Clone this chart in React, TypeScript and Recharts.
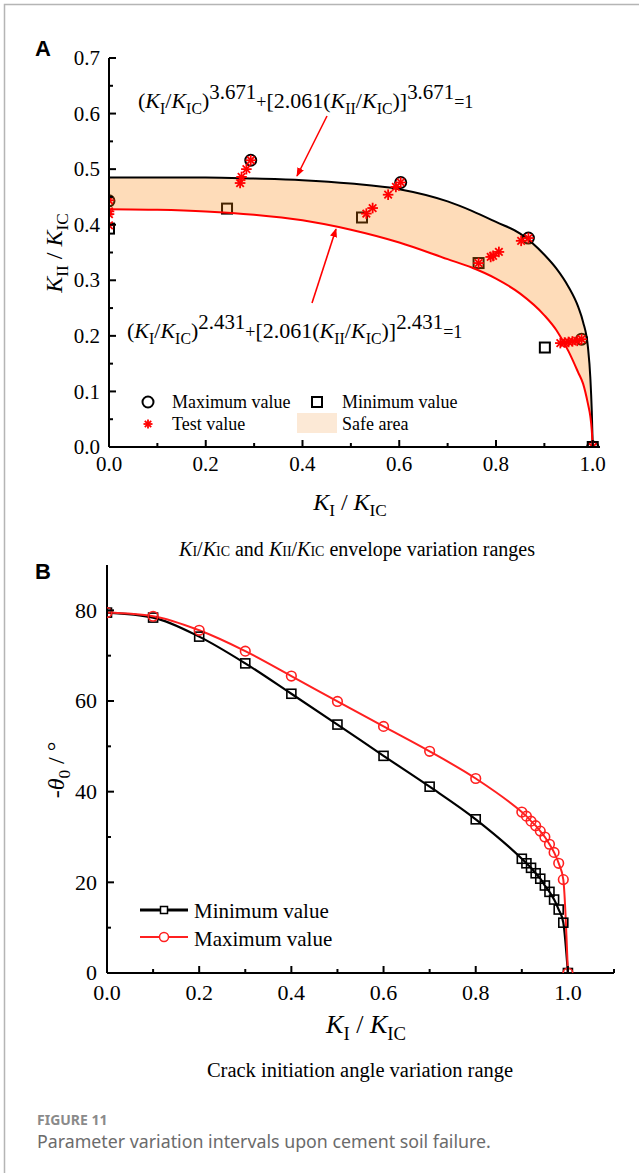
import React from "react";
import { ComposedChart, Line, Area, Scatter, XAxis, YAxis } from "recharts";

const serif = "'Liberation Serif', 'Times New Roman', serif";
const sans = "'Liberation Sans', Arial, sans-serif";

// ---- panel A: failure envelopes ----
const envX = [0, 0.1, 0.2, 0.3, 0.4, 0.5, 0.6, 0.7, 0.75, 0.8, 0.85, 0.9, 0.925, 0.95, 0.97, 0.98, 0.99, 0.995, 0.998, 1.0];
const outerY = [0.485, 0.485, 0.485, 0.483, 0.48, 0.474, 0.464, 0.442, 0.425, 0.405, 0.384, 0.346, 0.321, 0.288, 0.252, 0.225, 0.18, 0.125, 0.065, 0];
const innerY = [0.428, 0.427, 0.424, 0.418, 0.408, 0.391, 0.368, 0.338, 0.323, 0.303, 0.276, 0.237, 0.21, 0.172, 0.134, 0.114, 0.078, 0.055, 0.03, 0];

const maxX = [0, 0.293, 0.603, 0.867, 0.977, 1.0];
const maxY = [0.443, 0.516, 0.476, 0.376, 0.194, 0];
const minX = [0, 0.244, 0.523, 0.764, 0.901, 1.0];
const minY = [0.393, 0.429, 0.413, 0.331, 0.179, 0];
const testX = [0, 0, 0, 0, 0.271, 0.274, 0.284, 0.293, 0.532, 0.545, 0.577, 0.593, 0.603, 0.764, 0.789, 0.794, 0.806, 0.852, 0.867, 0.933, 0.942, 0.95, 0.958, 0.968, 0.977, 1.0];
const testY = [0.444, 0.424, 0.419, 0.399, 0.475, 0.486, 0.5, 0.516, 0.42, 0.43, 0.454, 0.468, 0.476, 0.331, 0.342, 0.344, 0.351, 0.371, 0.376, 0.187, 0.188, 0.189, 0.19, 0.191, 0.194, 0];

const aXTicks = [0, 0.1, 0.2, 0.3, 0.4, 0.5, 0.6, 0.7, 0.8, 0.9, 1.0];
const aXMajor = [0, 0.2, 0.4, 0.6, 0.8, 1.0];
const aYTicks = [0, 0.05, 0.1, 0.15, 0.2, 0.25, 0.3, 0.35, 0.4, 0.45, 0.5, 0.55, 0.6, 0.65, 0.7];
const aYMajor = [0, 0.1, 0.2, 0.3, 0.4, 0.5, 0.6, 0.7];

// ---- panel B: crack initiation angle ----
const bX = [0, 0.1, 0.2, 0.3, 0.4, 0.5, 0.6, 0.7, 0.8, 0.9, 0.91, 0.92, 0.93, 0.94, 0.95, 0.96, 0.97, 0.98, 0.99, 1.0];
const bMin = [79.5, 78.4, 74.2, 68.3, 61.6, 54.8, 47.9, 41.1, 33.9, 25.2, 24.2, 23.2, 22.0, 20.8, 19.3, 17.9, 16.2, 14.0, 11.1, 0];
const bMax = [79.5, 78.7, 75.6, 71.0, 65.5, 59.9, 54.4, 48.9, 42.9, 35.5, 34.6, 33.5, 32.5, 31.3, 30.0, 28.4, 26.6, 24.2, 20.6, 0];

const bXTicks = [0, 0.1, 0.2, 0.3, 0.4, 0.5, 0.6, 0.7, 0.8, 0.9, 1.0, 1.1];
const bXMajor = [0, 0.2, 0.4, 0.6, 0.8, 1.0];
const bYTicks = [0, 10, 20, 30, 40, 50, 60, 70, 80];
const bYMajor = [0, 20, 40, 60, 80];

const envData = envX.map((x, i) => ({ x, hi: outerY[i], lo: innerY[i], band: [innerY[i], outerY[i]] }));
const maxPts = maxX.map((x, i) => ({ x, y: maxY[i] }));
const minPts = minX.map((x, i) => ({ x, y: minY[i] }));
const testPts = testX.map((x, i) => ({ x, y: testY[i] }));
const bData = bX.map((x, i) => ({ x, min: bMin[i], max: bMax[i] }));

const isMajor = (list: number[], v: number) => list.some((m) => Math.abs(m - v) < 1e-6);

const xTick = (majors: number[], fmt: (v: number) => string, fs: number, gap: number) => (p: any) => {
  const v = p.payload.value;
  const big = isMajor(majors, v);
  return (
    <g>
      <line x1={p.x} y1={p.y} x2={p.x} y2={p.y - (big ? 7 : 4)} stroke="#000" strokeWidth={2} />
      {big && (
        <text x={p.x} y={p.y + gap} textAnchor="middle" fontFamily={serif} fontSize={fs} fill="#000">
          {fmt(v)}
        </text>
      )}
    </g>
  );
};

const yTick = (majors: number[], fmt: (v: number) => string, fs: number, gap: number) => (p: any) => {
  const v = p.payload.value;
  const big = isMajor(majors, v);
  return (
    <g>
      <line x1={p.x} y1={p.y} x2={p.x + (big ? 7 : 4)} y2={p.y} stroke="#000" strokeWidth={2} />
      {big && (
        <text x={p.x - gap} y={p.y + fs * 0.34} textAnchor="end" fontFamily={serif} fontSize={fs} fill="#000">
          {fmt(v)}
        </text>
      )}
    </g>
  );
};

function Star({ cx, cy, r = 5, color = "#ff0000" }: { cx: number; cy: number; r?: number; color?: string }) {
  const d = r * 0.7071;
  return (
    <g stroke={color} strokeWidth={1.8}>
      <line x1={cx - r} y1={cy} x2={cx + r} y2={cy} />
      <line x1={cx} y1={cy - r} x2={cx} y2={cy + r} />
      <line x1={cx - d} y1={cy - d} x2={cx + d} y2={cy + d} />
      <line x1={cx - d} y1={cy + d} x2={cx + d} y2={cy - d} />
    </g>
  );
}

const circleShape = (p: any) => <circle cx={p.cx} cy={p.cy} r={5.5} fill="none" stroke="#000" strokeWidth={2} />;
const squareShape = (p: any) => <rect x={p.cx - 5} y={p.cy - 5} width={10} height={10} fill="none" stroke="#000" strokeWidth={2} />;
const starShape = (p: any) => <Star cx={p.cx} cy={p.cy} r={5.3} />;

type Seg = { t: string; k?: "sub" | "sup"; it?: boolean; fs?: number };

function Rich({ x, y, fs, segs, anchor = "start", transform, subOff = 0.25, supOff = 0.45, supScale = 0.72 }: {
  x: number; y: number; fs: number; segs: Seg[]; anchor?: string; transform?: string; subOff?: number; supOff?: number; supScale?: number;
}) {
  let level = 0;
  return (
    <text x={x} y={y} fontFamily={serif} fontSize={fs} textAnchor={anchor as any} transform={transform} fill="#000" style={{ whiteSpace: "pre" }}>
      {segs.map((s, i) => {
        const target = s.k === "sub" ? fs * subOff : s.k === "sup" ? -fs * supOff : 0;
        const dy = target - level;
        level = target;
        const size = s.fs ?? (s.k === "sup" ? fs * supScale : s.k === "sub" ? fs * 0.72 : fs);
        return (
          <tspan key={i} dy={dy} fontSize={size} fontStyle={s.it ? "italic" : "normal"}>
            {s.t}
          </tspan>
        );
      })}
    </text>
  );
}

const ratio = (sub: string): Seg[] => [{ t: "K", it: true }, { t: sub, k: "sub" }];

const formula = (p: string): Seg[] => [
  { t: "(" },
  ...ratio("I"),
  { t: "/" },
  ...ratio("IC"),
  { t: ")" },
  { t: p, k: "sup" },
  { t: "+", fs: 18 },
  { t: "[2.061(" },
  ...ratio("II"),
  { t: "/" },
  ...ratio("IC"),
  { t: ")]" },
  { t: p, k: "sup" },
  { t: "=1", fs: 18 },
];

const axisTitle: Seg[] = [...ratio("I"), { t: " / " }, ...ratio("IC")];

function PanelA() {
  return (
    <ComposedChart width={639} height={560} data={envData} margin={{ top: 58, right: 39, left: 49, bottom: 83 }}>
      <XAxis
        type="number"
        dataKey="x"
        domain={[0, 1.015]}
        allowDataOverflow
        ticks={aXTicks}
        interval={0}
        tickLine={false}
        tickSize={0}
        tickMargin={0}
        height={30}
        axisLine={{ stroke: "#000", strokeWidth: 2 }}
        tick={xTick(aXMajor, (v) => v.toFixed(1), 21, 24)}
      />
      <YAxis
        type="number"
        domain={[0, 0.7]}
        allowDataOverflow
        ticks={aYTicks}
        interval={0}
        tickLine={false}
        tickSize={0}
        tickMargin={0}
        width={60}
        axisLine={{ stroke: "#000", strokeWidth: 2 }}
        tick={yTick(aYMajor, (v) => v.toFixed(1), 21, 9)}
      />
      <Scatter data={minPts} dataKey="y" shape={squareShape} isAnimationActive={false} zIndex={101} />
      <Scatter data={maxPts} dataKey="y" shape={circleShape} isAnimationActive={false} zIndex={102} />
      <Area dataKey="band" type="monotone" fill="#FA8205" fillOpacity={0.28} stroke="none" isAnimationActive={false} zIndex={103} />
      <Line dataKey="hi" type="monotone" stroke="#000" strokeWidth={2} dot={false} isAnimationActive={false} zIndex={104} />
      <Line dataKey="lo" type="monotone" stroke="#ff0000" strokeWidth={2} dot={false} isAnimationActive={false} zIndex={104} />
      <Scatter data={testPts} dataKey="y" shape={starShape} isAnimationActive={false} zIndex={105} />
    </ComposedChart>
  );
}

const squareDot = (p: any) => (
  <rect key={`s${p.index}`} x={p.cx - 4.5} y={p.cy - 4.5} width={9} height={9} fill="none" stroke="#000" strokeWidth={1.6} />
);
const circleDot = (p: any) => (
  <circle key={`c${p.index}`} cx={p.cx} cy={p.cy} r={4.8} fill="none" stroke="#ff2020" strokeWidth={1.6} />
);

function PanelB() {
  return (
    <ComposedChart width={639} height={520} data={bData} margin={{ top: 25, right: 25, left: 47, bottom: 57 }}>
      <XAxis
        type="number"
        dataKey="x"
        domain={[0, 1.1]}
        allowDataOverflow
        ticks={bXTicks}
        interval={0}
        tickLine={false}
        tickSize={0}
        tickMargin={0}
        height={30}
        axisLine={{ stroke: "#000", strokeWidth: 2 }}
        tick={xTick(bXMajor, (v) => v.toFixed(1), 22, 27)}
      />
      <YAxis
        type="number"
        domain={[0, 90]}
        allowDataOverflow
        ticks={bYTicks}
        interval={0}
        tickLine={false}
        tickSize={0}
        tickMargin={0}
        width={60}
        axisLine={{ stroke: "#000", strokeWidth: 2 }}
        tick={yTick(bYMajor, (v) => String(v), 22, 10)}
      />
      <Line dataKey="min" type="monotone" stroke="#000" strokeWidth={2.2} dot={squareDot} isAnimationActive={false} />
      <Line dataKey="max" type="monotone" stroke="#ff2020" strokeWidth={2} dot={circleDot} isAnimationActive={false} />
    </ComposedChart>
  );
}

function Overlay() {
  return (
    <svg width={639} height={1173} style={{ position: "absolute", left: 0, top: 0, pointerEvents: "none" }}>
      <defs>
        <marker id="ah" viewBox="0 0 10 10" refX="9" refY="5" markerWidth="9" markerHeight="9" orient="auto" markerUnits="userSpaceOnUse">
          <path d="M0 1 L10 5 L0 9 Z" fill="#ff0000" />
        </marker>
      </defs>
      <path d="M4.5 1173 V4.5 H639" stroke="#b5b5b5" strokeWidth={1.5} fill="none" />

      {/* panel A */}
      <text x={35} y={56} fontFamily={sans} fontWeight="bold" fontSize={22} fill="#000">A</text>
      <Rich x={138} y={108} fs={22} supScale={0.95} supOff={0.42} segs={formula("3.671")} />
      <Rich x={127} y={338} fs={22} supScale={0.95} supOff={0.42} segs={formula("2.431")} />
      <line x1={327} y1={116} x2={297} y2={176} stroke="#ff0000" strokeWidth={1.6} markerEnd="url(#ah)" />
      <line x1={312} y1={303} x2={336} y2={229} stroke="#ff0000" strokeWidth={1.6} markerEnd="url(#ah)" />

      <circle cx={148} cy={402} r={5.5} fill="none" stroke="#000" strokeWidth={2} />
      <text x={172} y={408} fontFamily={serif} fontSize={18} fill="#000">Maximum value</text>
      <Star cx={148} cy={424} r={4.5} />
      <text x={172} y={430} fontFamily={serif} fontSize={18} fill="#000">Test value</text>
      <rect x={312} y={397} width={10} height={10} fill="none" stroke="#000" strokeWidth={2} />
      <text x={342} y={408} fontFamily={serif} fontSize={18} fill="#000">Minimum value</text>
      <rect x={297} y={413} width={40} height={20} fill="#FCE9D6" />
      <text x={342} y={430} fontFamily={serif} fontSize={18} fill="#000">Safe area</text>

      <Rich x={350} y={510} fs={24} anchor="middle" segs={axisTitle} />
      <Rich x={62} y={253} fs={24} anchor="middle" transform="rotate(-90 62 253)" segs={[...ratio("II"), { t: " / " }, ...ratio("IC")]} />

      <text x={357} y={556} textAnchor="middle" fontFamily={serif} fontSize={20} fill="#000" style={{ whiteSpace: "pre" }}>
        <tspan fontStyle="italic">K</tspan>
        <tspan fontSize={14}>I</tspan>
        <tspan>/</tspan>
        <tspan fontStyle="italic">K</tspan>
        <tspan fontSize={14}>IC</tspan>
        <tspan>{" and "}</tspan>
        <tspan fontStyle="italic">K</tspan>
        <tspan fontSize={14}>II</tspan>
        <tspan>/</tspan>
        <tspan fontStyle="italic">K</tspan>
        <tspan fontSize={14}>IC</tspan>
        <tspan>{" envelope variation ranges"}</tspan>
      </text>

      {/* panel B */}
      <text x={35} y={579} fontFamily={sans} fontWeight="bold" fontSize={22} fill="#000">B</text>
      <Rich
        x={64}
        y={770}
        fs={24}
        anchor="middle"
        transform="rotate(-90 64 770)"
        segs={[{ t: "-" }, { t: "θ", it: true }, { t: "0", k: "sub" }, { t: " / °" }]}
      />
      <Rich x={366} y={1033} fs={26} anchor="middle" segs={axisTitle} />

      <line x1={140} y1={910} x2={188} y2={910} stroke="#000" strokeWidth={3} />
      <rect x={160.5} y={906.5} width={7} height={7} fill="#fff" stroke="#000" strokeWidth={1.5} />
      <text x={194} y={918} fontFamily={serif} fontSize={21} fill="#000">Minimum value</text>
      <line x1={140} y1={937} x2={188} y2={937} stroke="#ff2020" strokeWidth={2} />
      <circle cx={164} cy={937} r={4.5} fill="#fff" stroke="#ff2020" strokeWidth={1.5} />
      <text x={194} y={946} fontFamily={serif} fontSize={21} fill="#000">Maximum value</text>

      <text x={360} y={1077} textAnchor="middle" fontFamily={serif} fontSize={20.5} fill="#000">
        Crack initiation angle variation range
      </text>

      <text x={37} y={1125} fontFamily="'Noto Sans', sans-serif" fontWeight="bold" fontSize={14} fill="#8a8a8a">FIGURE 11</text>
      <text x={37} y={1148} fontFamily="'Noto Sans', sans-serif" fontSize={17.8} fill="#6b6b6b">
        Parameter variation intervals upon cement soil failure.
      </text>
    </svg>
  );
}

export default function App() {
  return (
    <div style={{ position: "absolute", left: 0, top: 0, width: 639, height: 1173, background: "#fff", overflow: "hidden" }}>
      <div style={{ position: "absolute", left: 0, top: 0 }}>
        <PanelA />
      </div>
      <div style={{ position: "absolute", left: 0, top: 540 }}>
        <PanelB />
      </div>
      <Overlay />
    </div>
  );
}
